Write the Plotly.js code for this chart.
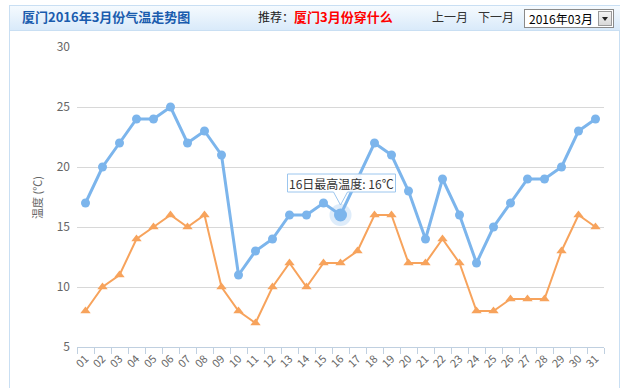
<!DOCTYPE html>
<html>
<head>
<meta charset="utf-8">
<script src="https://cdn.plot.ly/plotly-3.0.1.min.js"></script>
<style>
  html, body { margin:0; padding:0; background:#fff; }
  body { width:632px; height:388px; position:relative; overflow:hidden; font-family:"Noto Sans CJK SC","Noto Sans",sans-serif; }
  #frame { position:absolute; left:9px; top:5px; width:611px; height:400px; border:1px solid #c9dff3; box-sizing:border-box; }
  #header { position:absolute; left:10px; top:6px; width:610px; height:24px; background:linear-gradient(#f5fafe,#d9eafa); border-bottom:1px solid #c9dff3; }
  .txt { position:absolute; top:8px; line-height:18px; white-space:nowrap; }
  #title { left:22px; font-size:13px; font-weight:bold; color:#1a5cae; }
  #rec { left:258px; font-size:12px; color:#222; }
  #rec b { color:#f00; font-size:13px; }
  #prev { left:432px; font-size:12px; color:#333; }
  #next { left:478px; font-size:12px; color:#333; }
  #sel { position:absolute; left:524px; top:9px; width:90px; height:19px; border:1px solid #8a8a8a; box-sizing:border-box; background:#fff; font-size:12px; line-height:17px; color:#000; padding-left:4px; }
  #btn { position:absolute; right:1px; top:1px; width:14px; height:15px; background:linear-gradient(#f4f4f4,#d8d8d8); border:1px solid #9a9a9a; box-sizing:border-box; }
  #btn:after { content:""; position:absolute; left:3px; top:5px; border-left:3px solid transparent; border-right:3px solid transparent; border-top:4px solid #222; }
  #chart { position:absolute; left:0; top:0; width:632px; height:388px; }
</style>
</head>
<body>
<div id="frame"></div>
<div id="header"></div>
<div class="txt" id="title">厦门2016年3月份气温走势图</div>
<div class="txt" id="rec">推荐：<b>厦门3月份穿什么</b></div>
<div class="txt" id="prev">上一月</div>
<div class="txt" id="next">下一月</div>
<div id="sel">2016年03月<div id="btn"></div></div>
<div id="chart"></div>
<script>
const days = ['01','02','03','04','05','06','07','08','09','10','11','12','13','14','15','16','17','18','19','20','21','22','23','24','25','26','27','28','29','30','31'];
const high = [17,20,22,24,24,25,22,23,21,11,13,14,16,16,17,16,19,22,21,18,14,19,16,12,15,17,19,19,20,23,24];
const low  = [8,10,11,14,15,16,15,16,10,8,7,10,12,10,12,12,13,16,16,12,12,14,12,8,8,9,9,9,13,16,15];
const yTicks = [5,10,15,20,25,30];
const hoverDay = '16';
const hoverIndex = days.indexOf(hoverDay);
const hoverValue = high[hoverIndex];
const tooltipText = hoverDay + '日最高温度: ' + hoverValue + '℃';

const traces = [
  { x: days, y: low, type:'scatter', mode:'lines+markers', name:'最低温度',
    line:{color:'#f7a35c', width:2}, marker:{symbol:'triangle-up', size:9, color:'#f7a35c'}, hoverinfo:'skip' },
  { x: days, y: high, type:'scatter', mode:'lines+markers', name:'最高温度',
    line:{color:'#7cb5ec', width:3}, marker:{symbol:'circle', size:9, color:'#7cb5ec'}, hoverinfo:'skip' },
  { x: [hoverDay], y: [hoverValue], type:'scatter', mode:'markers',
    marker:{size:22, color:'rgba(124,181,236,0.25)'}, hoverinfo:'skip' },
  { x: [hoverDay], y: [hoverValue], type:'scatter', mode:'markers',
    marker:{size:13, color:'#7cb5ec'}, hoverinfo:'skip' }
];

const layout = {
  width:632, height:388,
  margin:{l:77, r:28, t:47, b:41},
  paper_bgcolor:'rgba(0,0,0,0)', plot_bgcolor:'rgba(0,0,0,0)',
  showlegend:false,
  font:{family:'"Noto Sans CJK SC","Noto Sans",sans-serif', color:'#666'},
  xaxis:{ type:'category', range:[-0.5, 30.5], tickangle:-45, tickson:'boundaries',
    ticks:'outside', ticklen:6, tickcolor:'#c0d0e0', showline:true, linecolor:'#c0d0e0', linewidth:1,
    showgrid:false, zeroline:false, tickfont:{size:11, color:'#666'}, fixedrange:true },
  yaxis:{ range:[5,30], tickvals:yTicks, showgrid:true, gridcolor:'#d8d8d8', gridwidth:1,
    zeroline:false, showline:false, ticks:'', ticklabelstandoff:6,
    tickfont:{size:12, color:'#666'}, fixedrange:true },
  shapes:[{
    type:'path', xref:'x', yref:'y', xsizemode:'pixel', ysizemode:'pixel',
    xanchor:hoverIndex, yanchor:hoverValue,
    path:'M -53,41 L 55,41 L 55,23 L 7,23 L 0,10 L -7,23 L -53,23 Z',
    fillcolor:'rgba(255,255,255,0.92)', line:{color:'#9cc6ee', width:1}, layer:'above'
  }],
  annotations:[
    { x:hoverIndex, y:hoverValue, xref:'x', yref:'y', text:tooltipText, showarrow:false,
      yshift:32, xshift:1, font:{size:12, color:'#333'} },
    { x:-0.076, y:0.5, xref:'paper', yref:'paper', xanchor:'center', yanchor:'middle',
      text:'温度 (℃)', textangle:-90, showarrow:false, font:{size:11, color:'#666'} }
  ]
};

Plotly.newPlot('chart', traces, layout, {displayModeBar:false, staticPlot:true});
</script>
</body>
</html>
